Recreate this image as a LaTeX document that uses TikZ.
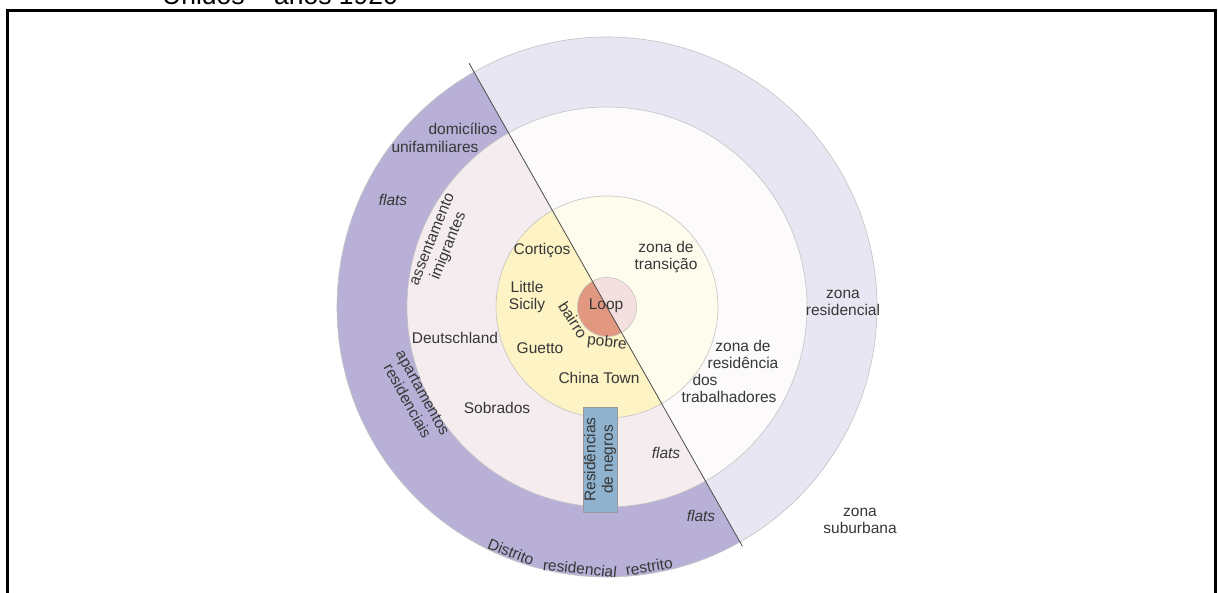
\documentclass[tikz,border=0pt]{standalone}
\usepackage{fontspec}
\setmainfont{Liberation Sans}
\usetikzlibrary{calc}
\definecolor{txt}{RGB}{55,55,55}
\definecolor{outerL}{RGB}{184,176,214}
\definecolor{outerR}{RGB}{232,230,242}
\definecolor{midL}{RGB}{244,236,238}
\definecolor{midR}{RGB}{252,250,251}
\definecolor{innerL}{RGB}{253,243,196}
\definecolor{innerR}{RGB}{254,252,236}
\definecolor{loopL}{RGB}{226,152,128}
\definecolor{loopR}{RGB}{244,224,222}
\definecolor{boxfill}{RGB}{143,178,206}
\definecolor{rim}{RGB}{195,195,195}
% split angle of the city model
\newcommand{\splitang}{119.5}
% one ring as two half discs, left and right of the split line
\newcommand{\halfdiscs}[3]{%
  \fill[#2] (C) -- ++(\splitang:#1) arc[start angle=\splitang, end angle=\splitang+180, radius=#1] -- cycle;
  \fill[#3] (C) -- ++(\splitang-180:#1) arc[start angle=\splitang-180, end angle=\splitang, radius=#1] -- cycle;
  \draw[rim, line width=0.6pt] (C) circle[radius=#1];
}
\begin{document}
\begin{tikzpicture}[x=1pt,y=1pt,
  lbl/.style={font=\fontsize{15.5}{17.5}\selectfont, text=txt, align=center, inner sep=0pt},
  itl/.style={lbl, font=\fontsize{15.5}{17.5}\selectfont\itshape}]
\useasboundingbox (0,0) rectangle (1218,593);
\coordinate (C) at (607,286);

% concentric zones
\halfdiscs{270}{outerL}{outerR}
\halfdiscs{200}{midL}{midR}
\halfdiscs{111}{innerL}{innerR}
\halfdiscs{29.5}{loopL}{loopR}

% split line
\coordinate (s1) at ($(C)+(\splitang:280)$);
\coordinate (s2) at ($(C)+(\splitang-180:275)$);
\draw[black!70, line width=0.8pt] (s1) -- (s2);

% frame
\coordinate (f1) at (7,-5);
\coordinate (f2) at (7,582);
\coordinate (f3) at (1215,582);
\coordinate (f4) at (1215,-5);
\draw[line width=3pt] (f1) -- (f2) -- (f3) -- (f4);
\node[anchor=base west, inner sep=0pt, font=\fontsize{26.5}{28}\selectfont] (title) at (162,588) {Unidos – anos 1920};

% box
\node[draw=black!40, fill=boxfill, rotate=90, minimum width=105pt, minimum height=34pt,
      inner sep=0pt, lbl] (negros) at (600,133.5) {Residências\\de negros};

% labels
\node[lbl] (dom1) at (463,464) {domicílios};
\node[lbl] (dom2) at (435,446) {unifamiliares};
\node[itl] (flatsA) at (393,393) {flats};
\node[lbl, rotate=68] (assent) at (441,350) {assentamento\\imigrantes};
\node[lbl] (cort) at (542,342) {Cortiços};
\node[lbl] (sicily) at (527,296) {Little\\Sicily};
\node[lbl, rotate=-57] (bairro) at (573,273) {bairro};
\node[lbl, rotate=-6] (pobre) at (607,250) {pobre};
\node[lbl] (loop) at (606,287) {Loop};
\node[lbl] (trans) at (666,336) {zona de\\transição};
\node[lbl] (guetto) at (540,245) {Guetto};
\node[lbl] (china) at (599,215) {China Town};
\node[lbl] (tr1) at (743,247) {zona de};
\node[lbl] (tr2) at (743,230) {residência};
\node[lbl] (tr3) at (705,213) {dos};
\node[lbl] (tr4) at (729,196) {trabalhadores};
\node[lbl] (resid) at (843,290) {zona\\residencial};
\node[lbl] (subur) at (860,72) {zona\\suburbana};
\node[lbl] (deutsch) at (455,255) {Deutschland};
\node[lbl, rotate=-61] (apart) at (415,196) {apartamentos\\residenciais};
\node[lbl] (sobr) at (497,185) {Sobrados};
\node[itl] (flatsB) at (666,140) {flats};
\node[itl] (flatsC) at (701,77) {flats};
\node[lbl, rotate=-21.4] (d1) at ($(C)+(-111.4:263)$) {Distrito};
\node[lbl, rotate=-5.9] (d2) at ($(C)+(-95.9:263)$) {residencial};
\node[lbl, rotate=9.2] (d3) at ($(C)+(-80.8:263)$) {restrito};
\end{tikzpicture}
\end{document}
